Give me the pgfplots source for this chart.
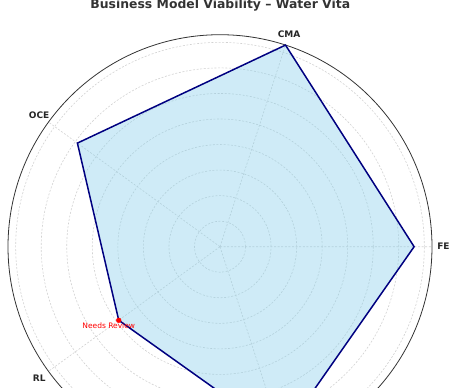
\documentclass[border=0pt]{standalone}
\usepackage{fontspec}
\setmainfont{DejaVu Sans}
\usepackage{pgfplots}
\pgfplotsset{compat=1.18}
\usepgfplotslibrary{polar}
\definecolor{navyc}{HTML}{000080}
\definecolor{skyc}{HTML}{87CEEB}
\definecolor{titlec}{HTML}{333333}
\definecolor{labc}{HTML}{262626}
\definecolor{gridc}{HTML}{D2D2D2}
\begin{document}
\begin{tikzpicture}
\useasboundingbox (0pt,0pt) rectangle (455pt,388pt);
\clip (0pt,0pt) rectangle (455pt,388pt);
\begin{polaraxis}[
  at={(220pt,141.3pt)}, anchor=center,
  scale only axis, width=424pt, height=424pt,
  ymin=0, ymax=8.3,
  xtick={0,72,144,216,288},
  ytick={1,2,3,4,5,6,7,8},
  xticklabels={}, yticklabels={},
  xtick style={draw=none}, ytick style={draw=none},
  xmajorgrids, ymajorgrids,
  major grid style={gridc, line width=0.6pt, dash pattern=on 2pt off 1.6pt},
  axis line style={black!80, line width=0.8pt},
  y axis line style={draw=none},
  clip=false,
]
\addplot[draw=navyc, line width=1.5pt, fill=skyc, fill opacity=0.4, line join=miter]
  coordinates {(0,7.6) (72,8.3) (144,6.9) (216,4.9) (288,7.8)} -- cycle;
\addplot[only marks, mark=*, mark size=2.4pt, red, mark options={draw=red, fill=red}]
  coordinates {(216,4.9)};
\node[text=red, font=\fontsize{7.5}{8}\selectfont, xshift=-10pt, yshift=-5.3pt] at (axis cs:216,4.9) {Needs Review};
\node[text=labc, font=\bfseries\fontsize{9}{10}\selectfont] at (axis cs:0,8.75) {FE};
\node[text=labc, font=\bfseries\fontsize{9}{10}\selectfont] at (axis cs:72,8.75) {CMA};
\node[text=labc, font=\bfseries\fontsize{9}{10}\selectfont] at (axis cs:144,8.75) {OCE};
\node[text=labc, font=\bfseries\fontsize{9}{10}\selectfont] at (axis cs:216,8.75) {RL};
\end{polaraxis}
\node[anchor=base, text=titlec, font=\bfseries\fontsize{12.4}{14}\selectfont, inner sep=0pt] at (220.3pt,379.3pt) {Business Model Viability – Water Vita};
\end{tikzpicture}
\end{document}
